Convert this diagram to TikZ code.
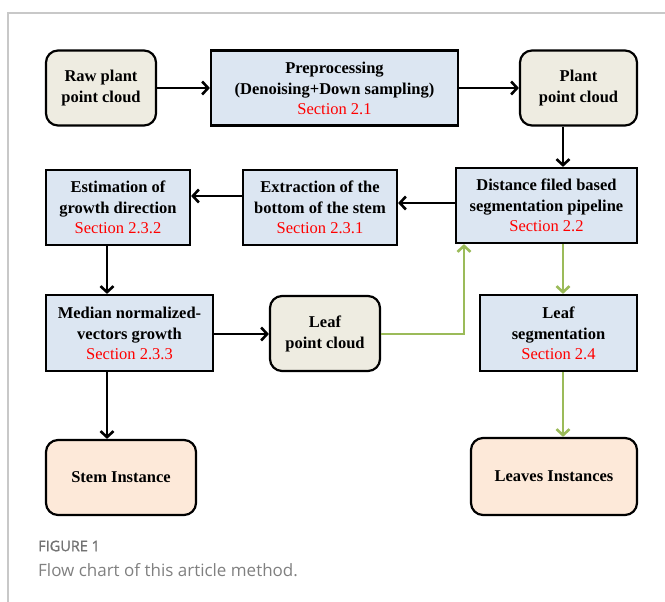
\documentclass[tikz,border=0pt]{standalone}
\usepackage{fontspec}
\setmainfont{Liberation Serif}
\newfontfamily\capfont{Open Sans}
\newfontfamily\capfontb[FakeBold=1.2]{Open Sans}
\usetikzlibrary{arrows.meta,positioning}
\definecolor{beige}{HTML}{EEECE1}
\definecolor{lblue}{HTML}{DCE6F2}
\definecolor{peach}{HTML}{FDE9D9}
\definecolor{lgreen}{HTML}{9BBB59}
\definecolor{secred}{HTML}{FF0000}
\definecolor{framegray}{HTML}{C8C8C8}
\tikzset{
  box/.style={draw=black, line width=2.2pt, fill=lblue, align=center, inner sep=0pt,
    font=\fontsize{16.5}{21}\selectfont\bfseries},
  rbox/.style={box, rounded corners=12pt, fill=beige},
  pbox/.style={box, rounded corners=12pt, fill=peach},
  arr/.style={line width=2.8pt, -{Straight Barb[length=6pt,width=13pt,line width=2.6pt]}},
  garr/.style={arr, draw=lgreen},
}
\newcommand{\sect}[1]{\\[-1pt]{\color{secred}\mdseries #1}}
\begin{document}
\begin{tikzpicture}[x=1pt,y=-1pt]
\useasboundingbox (0,0) rectangle (665,602);
\draw[framegray, line width=1.2pt] (8,602) -- (8,13) -- (665,13);
% row 1
\node[rbox, minimum width=110pt, minimum height=75pt] (raw) at (101,88) {Raw plant\\point cloud};
\node[box, minimum width=247pt, minimum height=75pt] (pre) at (334.5,88) {Preprocessing\\(Denoising+Down sampling)\sect{Section 2.1}};
\node[rbox, minimum width=117pt, minimum height=75pt] (plant) at (578.5,88) {Plant\\point cloud};
% row 2
\node[box, minimum width=181pt, minimum height=75pt] (dist) at (546.5,205.5) {Distance filed based\\segmentation pipeline\sect{Section 2.2}};
\node[box, minimum width=154pt, minimum height=75pt] (ext) at (320,207.5) {Extraction of the\\bottom of the stem\sect{Section 2.3.1}};
\node[box, minimum width=144pt, minimum height=75pt] (est) at (118,207.5) {Estimation of\\growth direction\sect{Section 2.3.2}};
% row 3
\node[box, minimum width=167pt, minimum height=76pt] (med) at (129.5,333) {Median normalized-\\vectors growth\sect{Section 2.3.3}};
\node[rbox, minimum width=110pt, minimum height=75pt] (leafpc) at (325,333.5) {Leaf\\point cloud};
\node[box, minimum width=157pt, minimum height=76pt] (lseg) at (558.5,333) {Leaf\\segmentation\sect{Section 2.4}};
% row 4
\node[pbox, minimum width=150pt, minimum height=75pt] (stem) at (121,477.5) {Stem Instance};
\node[pbox, minimum width=166pt, minimum height=77pt] (leaves) at (554,476.5) {Leaves Instances};
% arrows
\draw[arr] (raw.east) -- (pre.west);
\draw[arr] (pre.east) -- (plant.west);
\draw[arr] (plant.south -| 563,0) -- (dist.north -| 563,0);
\draw[arr] (dist.west |- 0,203) -- (ext.east |- 0,203);
\draw[arr] (ext.west |- 0,196) -- (est.east |- 0,196);
\draw[arr] (est.south -| 107,0) -- (med.north -| 107,0);
\draw[arr] (med.east |- 0,334) -- (leafpc.west |- 0,334);
\draw[arr] (med.south -| 107,0) -- (stem.north -| 107,0);
\draw[garr] (leafpc.east |- 0,334) -| (dist.south -| 464,0);
\draw[garr] (dist.south -| 563,0) -- (lseg.north -| 563,0);
\draw[garr] (lseg.south -| 563,0) -- (leaves.north -| 563,0);
% caption
\node[anchor=west, inner sep=0pt, text=black!55, font=\capfontb\fontsize{14.5}{16}\selectfont] (figlab) at (38,546) {FIGURE 1};
\node[anchor=west, inner sep=0pt, text=black!50, font=\capfont\fontsize{17}{19}\selectfont] (cap) at (38,570) {Flow chart of this article method.};
\end{tikzpicture}
\end{document}
